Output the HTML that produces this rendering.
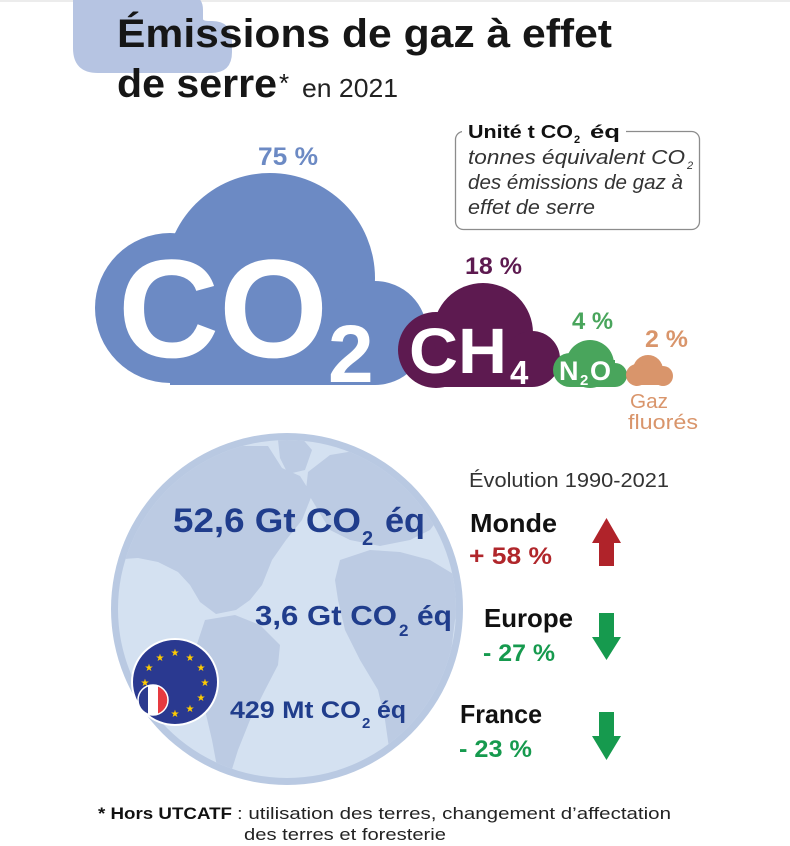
<!DOCTYPE html>
<html><head><meta charset="utf-8"><style>
html,body{margin:0;padding:0;background:#fff;}
svg{display:block;}
text{font-family:"Liberation Sans",sans-serif;}
</style></head><body>
<svg width="790" height="846" viewBox="0 0 790 846" xmlns="http://www.w3.org/2000/svg">
<rect x="0" y="0" width="790" height="2" fill="#ececec"/>
<!-- title blob -->
<path d="M73,-5 L188,-5 Q203,-5 203,10 L203,19 Q203,21 210,21 L212,21 Q232,21 232,42 L232,52 Q232,73 211,73 L98,73 Q73,73 73,48 Z" fill="#b6c4e2"/>
<text x="117" y="47" font-size="40" font-weight="bold" fill="#161616" textLength="495" lengthAdjust="spacingAndGlyphs">Émissions de gaz à effet</text>
<text x="117" y="97" font-size="40" font-weight="bold" fill="#161616" textLength="160" lengthAdjust="spacingAndGlyphs">de serre</text>
<text x="279" y="92" font-size="26" fill="#161616">*</text>
<text x="302" y="97" font-size="26" fill="#222" textLength="96" lengthAdjust="spacingAndGlyphs">en 2021</text>

<!-- unit box -->
<rect x="455.5" y="131.5" width="244" height="98" rx="8" fill="none" stroke="#8c8c8c" stroke-width="1.3"/>
<rect x="462" y="122" width="164" height="18" fill="#fff"/>
<text x="468" y="138" font-size="18" font-weight="bold" fill="#111" textLength="105" lengthAdjust="spacingAndGlyphs">Unité t CO</text>
<text x="574" y="143" font-size="11" font-weight="bold" fill="#111">2</text>
<text x="590" y="138" font-size="18" font-weight="bold" fill="#111" textLength="30" lengthAdjust="spacingAndGlyphs">éq</text>
<text x="468" y="164" font-size="20" font-style="italic" fill="#333" textLength="217" lengthAdjust="spacingAndGlyphs">tonnes équivalent CO</text>
<text x="687" y="169" font-size="11" font-style="italic" fill="#333">2</text>
<text x="468" y="189" font-size="20" font-style="italic" fill="#333" textLength="215" lengthAdjust="spacingAndGlyphs">des émissions de gaz à</text>
<text x="468" y="214" font-size="20" font-style="italic" fill="#333" textLength="127" lengthAdjust="spacingAndGlyphs">effet de serre</text>

<!-- CO2 cloud -->
<g fill="#6c8ac4">
<circle cx="170" cy="308" r="75"/>
<circle cx="270" cy="278" r="105"/>
<circle cx="375" cy="333" r="52"/>
<rect x="170" y="300" width="205" height="85"/>
</g>
<text x="258" y="165" font-size="25" font-weight="bold" fill="#6c8ac4" textLength="60" lengthAdjust="spacingAndGlyphs">75 %</text>
<text x="118" y="357" font-size="140" font-weight="bold" fill="#fff" textLength="210" lengthAdjust="spacingAndGlyphs">CO</text>
<text x="328" y="382" font-size="82" font-weight="bold" fill="#fff">2</text>

<!-- CH4 cloud -->
<g fill="#5d1a50">
<circle cx="436" cy="350" r="38"/>
<circle cx="483" cy="333" r="50"/>
<circle cx="532" cy="359" r="28"/>
<rect x="436" y="340" width="96" height="47"/>
</g>
<text x="465" y="274" font-size="24" font-weight="bold" fill="#5d1a50" textLength="57" lengthAdjust="spacingAndGlyphs">18 %</text>
<text x="409" y="373" font-size="64" font-weight="bold" fill="#fff" textLength="98" lengthAdjust="spacingAndGlyphs">CH</text>
<text x="510" y="384" font-size="33" font-weight="bold" fill="#fff">4</text>

<!-- N2O cloud -->
<g fill="#49a55c">
<circle cx="590" cy="364" r="24"/>
<circle cx="570" cy="370" r="17"/>
<circle cx="615" cy="375" r="12"/>
<rect x="570" y="360" width="45" height="27"/>
</g>
<text x="572" y="329" font-size="24" font-weight="bold" fill="#49a55c" textLength="41" lengthAdjust="spacingAndGlyphs">4 %</text>
<text x="559" y="380" font-size="27" font-weight="bold" fill="#fff">N</text>
<text x="580" y="385" font-size="15" font-weight="bold" fill="#fff">2</text>
<text x="590" y="380" font-size="27" font-weight="bold" fill="#fff">O</text>

<!-- Gaz fluorés cloud -->
<g fill="#d9956b">
<circle cx="648" cy="370" r="15"/>
<circle cx="637" cy="375" r="11"/>
<circle cx="663" cy="376" r="10"/>
<rect x="637" y="366" width="26" height="19"/>
</g>
<text x="645" y="347" font-size="24" font-weight="bold" fill="#d9956b" textLength="43" lengthAdjust="spacingAndGlyphs">2 %</text>
<text x="630" y="408" font-size="20" fill="#d9956b" textLength="38" lengthAdjust="spacingAndGlyphs">Gaz</text>
<text x="628" y="429" font-size="20" fill="#d9956b" textLength="70" lengthAdjust="spacingAndGlyphs">fluorés</text>

<!-- globe -->
<defs><clipPath id="gc"><circle cx="287" cy="609" r="169"/></clipPath></defs>
<circle cx="287" cy="609" r="176" fill="#b9c9e2"/>
<circle cx="287" cy="609" r="169" fill="#d4e1f1"/>
<g clip-path="url(#gc)" fill="#bccbe3">
<path d="M110,560 L125,530 L145,505 L165,488 L188,470 L212,456 L240,446 L268,446 L282,468 L300,476 L312,495 L302,520 L286,540 L272,560 L262,585 L250,600 L236,610 L216,614 L200,602 L190,585 L178,572 L158,562 L138,558 Z"/>
<path d="M278,440 L300,436 L312,450 L305,470 L288,474 L280,458 Z"/>
<path d="M205,620 L235,615 L260,625 L280,645 L278,665 L265,690 L250,720 L238,750 L228,782 L218,772 L212,740 L205,710 L200,680 L195,650 Z"/>
<path d="M308,472 L330,455 L360,450 L395,455 L420,465 L440,480 L445,510 L430,530 L410,540 L380,546 L350,540 L330,530 L318,510 L306,490 Z"/>
<path d="M340,560 L370,550 L400,552 L430,560 L455,575 L463,600 L455,620 L450,660 L440,700 L425,735 L405,760 L390,755 L385,720 L378,690 L360,660 L345,630 L338,600 L335,580 Z"/>
</g>

<!-- globe texts -->
<text x="173" y="532" font-size="34" font-weight="bold" fill="#203d8c" textLength="188" lengthAdjust="spacingAndGlyphs">52,6 Gt CO</text>
<text x="362" y="545" font-size="20" font-weight="bold" fill="#203d8c">2</text>
<text x="385" y="532" font-size="34" font-weight="bold" fill="#203d8c" textLength="40" lengthAdjust="spacingAndGlyphs">éq</text>

<text x="255" y="625" font-size="28" font-weight="bold" fill="#203d8c" textLength="142" lengthAdjust="spacingAndGlyphs">3,6 Gt CO</text>
<text x="399" y="636" font-size="17" font-weight="bold" fill="#203d8c">2</text>
<text x="417" y="625" font-size="28" font-weight="bold" fill="#203d8c" textLength="35" lengthAdjust="spacingAndGlyphs">éq</text>

<text x="230" y="718" font-size="24" font-weight="bold" fill="#203d8c" textLength="131" lengthAdjust="spacingAndGlyphs">429 Mt CO</text>
<text x="362" y="728" font-size="15" font-weight="bold" fill="#203d8c">2</text>
<text x="377" y="718" font-size="24" font-weight="bold" fill="#203d8c" textLength="29" lengthAdjust="spacingAndGlyphs">éq</text>

<!-- EU flag -->
<circle cx="175" cy="682" r="43" fill="#2a3990" stroke="#fff" stroke-width="2"/>
<g fill="#ffcc00" font-size="10" text-anchor="middle">
<text x="175" y="656">★</text>
<text x="160" y="661">★</text>
<text x="190" y="661">★</text>
<text x="149" y="671">★</text>
<text x="201" y="671">★</text>
<text x="145" y="686">★</text>
<text x="205" y="686">★</text>
<text x="149" y="701">★</text>
<text x="201" y="701">★</text>
<text x="160" y="712">★</text>
<text x="190" y="712">★</text>
<text x="175" y="717">★</text>
</g>
<defs><clipPath id="fr"><circle cx="153" cy="700" r="15"/></clipPath></defs>
<g clip-path="url(#fr)">
<rect x="138" y="685" width="10" height="30" fill="#2b3a8f"/>
<rect x="148" y="685" width="10" height="30" fill="#fff"/>
<rect x="158" y="685" width="10" height="30" fill="#e63a40"/>
</g>
<circle cx="153" cy="700" r="15" fill="none" stroke="#fff" stroke-width="1.5"/>

<!-- evolution -->
<text x="469" y="487" font-size="20" fill="#333" textLength="200" lengthAdjust="spacingAndGlyphs">Évolution 1990-2021</text>
<text x="470" y="532" font-size="26" font-weight="bold" fill="#111" textLength="87" lengthAdjust="spacingAndGlyphs">Monde</text>
<text x="469" y="564" font-size="24" font-weight="bold" fill="#b0262b" textLength="83" lengthAdjust="spacingAndGlyphs">+ 58 %</text>
<polygon points="606.5,518 621,543 614,543 614,566 599,566 599,543 592,543" fill="#b0232a"/>

<text x="484" y="627" font-size="26" font-weight="bold" fill="#111" textLength="89" lengthAdjust="spacingAndGlyphs">Europe</text>
<text x="483" y="661" font-size="24" font-weight="bold" fill="#169a4e" textLength="72" lengthAdjust="spacingAndGlyphs">- 27 %</text>
<polygon points="599,613 614,613 614,637 621,637 606.5,660 592,637 599,637" fill="#169a4e"/>

<text x="460" y="723" font-size="26" font-weight="bold" fill="#111" textLength="82" lengthAdjust="spacingAndGlyphs">France</text>
<text x="459" y="757" font-size="24" font-weight="bold" fill="#169a4e" textLength="73" lengthAdjust="spacingAndGlyphs">- 23 %</text>
<polygon points="599,712 614,712 614,736 621,736 606.5,760 592,736 599,736" fill="#169a4e"/>

<!-- footnote -->
<text x="98" y="819" font-size="17" font-weight="bold" fill="#111" textLength="134" lengthAdjust="spacingAndGlyphs">* Hors UTCATF</text>
<text x="237" y="819" font-size="17" fill="#222" textLength="434" lengthAdjust="spacingAndGlyphs">: utilisation des terres, changement d’affectation</text>
<text x="244" y="840" font-size="17" fill="#222" textLength="202" lengthAdjust="spacingAndGlyphs">des terres et foresterie</text>
</svg>
</body></html>
